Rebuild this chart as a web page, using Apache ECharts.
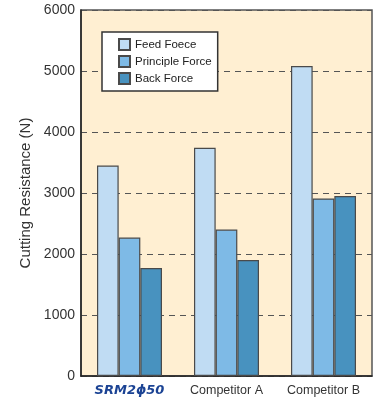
<!DOCTYPE html>
<html>
<head>
<meta charset="utf-8">
<style>
  html, body { margin: 0; padding: 0; background: #fff; }
  #chart { width: 375px; height: 398px; }
</style>
<script src="https://cdn.jsdelivr.net/npm/echarts@6/dist/echarts.min.js"></script>
</head>
<body>
<div id="chart"></div>
<script>
// Tools compared
const categories = ['SRM2\u03D550', 'Competitor A', 'Competitor B'];
// Cutting resistance components (N)
const feedForce = [3450, 3740, 5080];
const principleForce = [2270, 2400, 2910];
const backForce = [1770, 1900, 2950];
const seriesNames = ['Feed Foece', 'Principle Force', 'Back Force'];
const yTicks = [0, 1000, 2000, 3000, 4000, 5000, 6000];

const colors = ['#C0DCF3', '#7EBAE6', '#4892BF'];
const fontFamily = '"Liberation Sans", Arial, Helvetica, sans-serif';

const chart = echarts.init(document.getElementById('chart'), null, { renderer: 'canvas' });

function bar(name, data, color) {
  return {
    name: name,
    type: 'bar',
    data: data,
    barGap: '0%',
    barCategoryGap: '33%',
    itemStyle: { color: color, borderColor: '#4a4a4a', borderWidth: 1.2 }
  };
}

chart.setOption({
  animation: false,
  textStyle: { fontFamily: fontFamily },
  grid: {
    left: 81, right: 3, top: 10, bottom: 22,
    show: true,
    backgroundColor: '#FFEFD2',
    borderColor: '#555',
    borderWidth: 1.5
  },
  legend: {
    orient: 'vertical',
    left: 102, top: 32,
    data: seriesNames,
    backgroundColor: '#fff',
    borderColor: '#333',
    borderWidth: 1.5,
    borderRadius: 0,
    padding: [6, 6, 6, 16],
    itemWidth: 11, itemHeight: 11, itemGap: 4,
    icon: 'rect',
    textStyle: { fontSize: 11.5, color: '#222', fontFamily: fontFamily }
  },
  xAxis: {
    type: 'category',
    data: categories,
    axisLine: { lineStyle: { color: '#222', width: 1.5 } },
    axisTick: { show: false },
    axisLabel: {
      interval: 0,
      margin: 8,
      fontSize: 12.5,
      color: '#333',
      formatter: function (v, i) { return i === 0 ? '{brand|' + v + '}' : v; },
      rich: {
        brand: {
          fontFamily: '"DejaVu Sans", sans-serif',
          fontWeight: 'bold', fontStyle: 'italic',
          fontSize: 13, color: '#1B4394'
        }
      }
    }
  },
  yAxis: {
    type: 'value',
    min: yTicks[0], max: yTicks[yTicks.length - 1], interval: 1000,
    name: 'Cutting Resistance (N)',
    nameLocation: 'middle',
    nameGap: 48,
    nameTextStyle: { fontSize: 15, color: '#333', fontFamily: fontFamily },
    axisLine: { show: true, lineStyle: { color: '#222', width: 1.5 } },
    axisTick: { show: false },
    axisLabel: { fontSize: 14, color: '#333', margin: 6, formatter: function (v) { return String(v); } },
    splitLine: { show: true, lineStyle: { color: '#555', type: [6, 5], width: 1.2 } }
  },
  series: [
    bar(seriesNames[0], feedForce, colors[0]),
    bar(seriesNames[1], principleForce, colors[1]),
    bar(seriesNames[2], backForce, colors[2])
  ]
});
</script>
</body>
</html>
